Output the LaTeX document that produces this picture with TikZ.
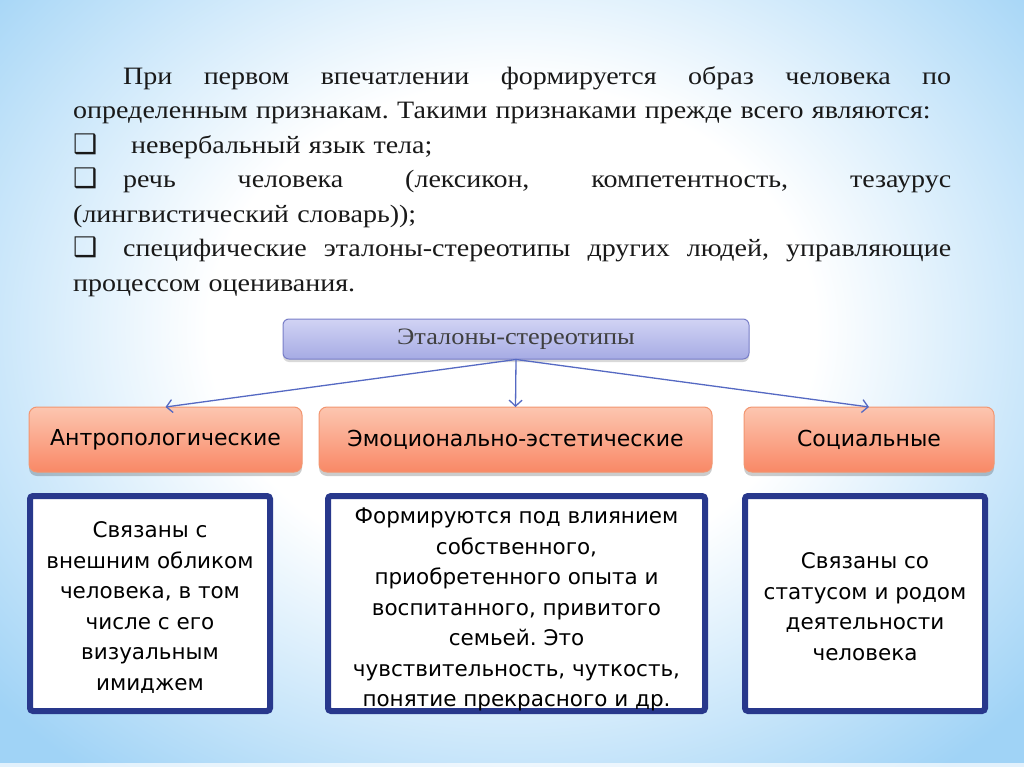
\documentclass[tikz,border=0pt]{standalone}
\usepackage{fontspec}
\setmainfont{Liberation Serif}[FakeStretch=1.12]
\newfontfamily\boxfont{DejaVu Sans}
\newfontfamily\markfont{DejaVu Sans}
\usetikzlibrary{arrows.meta,shadows}
\definecolor{bgblue}{RGB}{160,211,246}
\definecolor{salmontop}{RGB}{252,198,176}
\definecolor{salmonbot}{RGB}{249,136,102}
\definecolor{salmonline}{RGB}{242,150,112}
\definecolor{lavtop}{RGB}{209,211,244}
\definecolor{lavbot}{RGB}{166,171,228}
\definecolor{lavline}{RGB}{120,126,200}
\definecolor{arrowblue}{RGB}{85,105,195}
\definecolor{navy}{RGB}{40,56,140}
\pgfdeclareradialshading{slideglow}{\pgfpoint{0bp}{0bp}}{color(0bp)=(white); color(11bp)=(white); color(25bp)=(bgblue); color(50bp)=(bgblue)}
\newcommand{\jline}[1]{\leavevmode\hbox to 878pt{\spaceskip=0.25em plus 1fil\relax #1}}
\newcommand{\sqmark}[1]{\makebox[#1][l]{\markfont\fontsize{27}{27}\selectfont ❑}}
\frenchspacing

\begin{document}
\begin{tikzpicture}[x=1pt,y=-1pt,
    kind/.style={draw=salmonline, line width=1pt, rounded corners=8pt,
      top color=salmontop, bottom color=salmonbot, outer sep=0pt,
      minimum height=65pt, inner sep=0pt,
      font=\boxfont\fontsize{22}{26}\selectfont,
      drop shadow={shadow xshift=0pt, shadow yshift=-4pt, opacity=0.2, fill=black}},
    note/.style={draw=navy, line width=6pt, rounded corners=3pt, fill=white,
      minimum height=215pt, inner sep=0pt, outer sep=0pt},
    notetext/.style={inner sep=0pt, align=center,
      font=\boxfont\fontsize{21.5}{30.5}\selectfont},
    link/.style={draw=arrowblue, line width=1.3pt,
      -{Straight Barb[length=6pt,width=13pt]}}]
		%%%%% BACKGROUND %%%%%
		\useasboundingbox (0,0) rectangle (1024,767);
		\fill[bgblue] (0,0) rectangle (1024,767);
		\shade[shading=slideglow] (512,330) ellipse [x radius=690, y radius=560];
		\fill[white, opacity=0.7] (0,763) rectangle (1024,767);
		
		%%%%% TEXT %%%%%
		\node[anchor=north west, inner sep=0pt, text width=878pt, align=left,
		  text=black!90, font=\fontsize{25}{34.5}\selectfont] (intro) at (73,66)
		  {\jline{\hspace*{50pt}При первом впечатлении формируется образ человека по}\\
		   определенным признакам. Такими признаками прежде всего являются:\\
		   \sqmark{58pt}невербальный язык тела;\\
		   \jline{\sqmark{50pt}речь человека (лексикон, компетентность, тезаурус}\\
		   (лингвистический словарь));\\
		   \jline{\sqmark{50pt}специфические эталоны-стереотипы других людей, управляющие}\\
		   процессом оценивания.};
		
		%%%%% TREE %%%%%
		\node[draw=lavline, line width=1pt, rounded corners=6pt, top color=lavtop,
		  bottom color=lavbot, minimum width=466pt, minimum height=40pt,
		  text=black!75, font=\fontsize{23.5}{24}\selectfont,
		  drop shadow={shadow xshift=0pt, shadow yshift=-3pt, opacity=0.15, fill=black}]
		  (etalon) at (516,339) {Эталоны-стереотипы};
		
		\node[kind, minimum width=273pt] (anthro) at (165.5,439.5) {Антропологические};
		\node[kind, minimum width=393pt] (emo) at (515.5,439.5) {Эмоционально-эстетические};
		\node[kind, minimum width=250pt] (social) at (869,439.5) {Социальные};
		
		\draw[link] (etalon.south) -- (anthro.north);
		\draw[link] (etalon.south) -- (emo.north);
		\draw[link] (etalon.south) -- (social.north);
		
		\node[note, minimum width=240pt] (anthrobox) at (150,603.5) {};
		\node[note, minimum width=377pt] (emobox) at (516.5,603.5) {};
		\node[note, minimum width=240pt] (socialbox) at (865,603.5) {};
		
		\node[notetext] (anthrotext) at ([yshift=-4pt]anthrobox.center)
		  {Связаны с\\внешним обликом\\человека, в том\\числе с его\\визуальным\\имиджем};
		\node[notetext] (emotext) at ([yshift=-6pt]emobox.center)
		  {Формируются под влиянием\\собственного,\\приобретенного опыта и\\воспитанного, привитого\\семьей. Это\\чувствительность, чуткость,\\понятие прекрасного и др.};
		\node[notetext] (socialtext) at ([yshift=-3pt]socialbox.center)
		  {Связаны со\\статусом и родом\\деятельности\\человека};
		
		%%%%% END %%%%%
\end{tikzpicture}
\end{document}
